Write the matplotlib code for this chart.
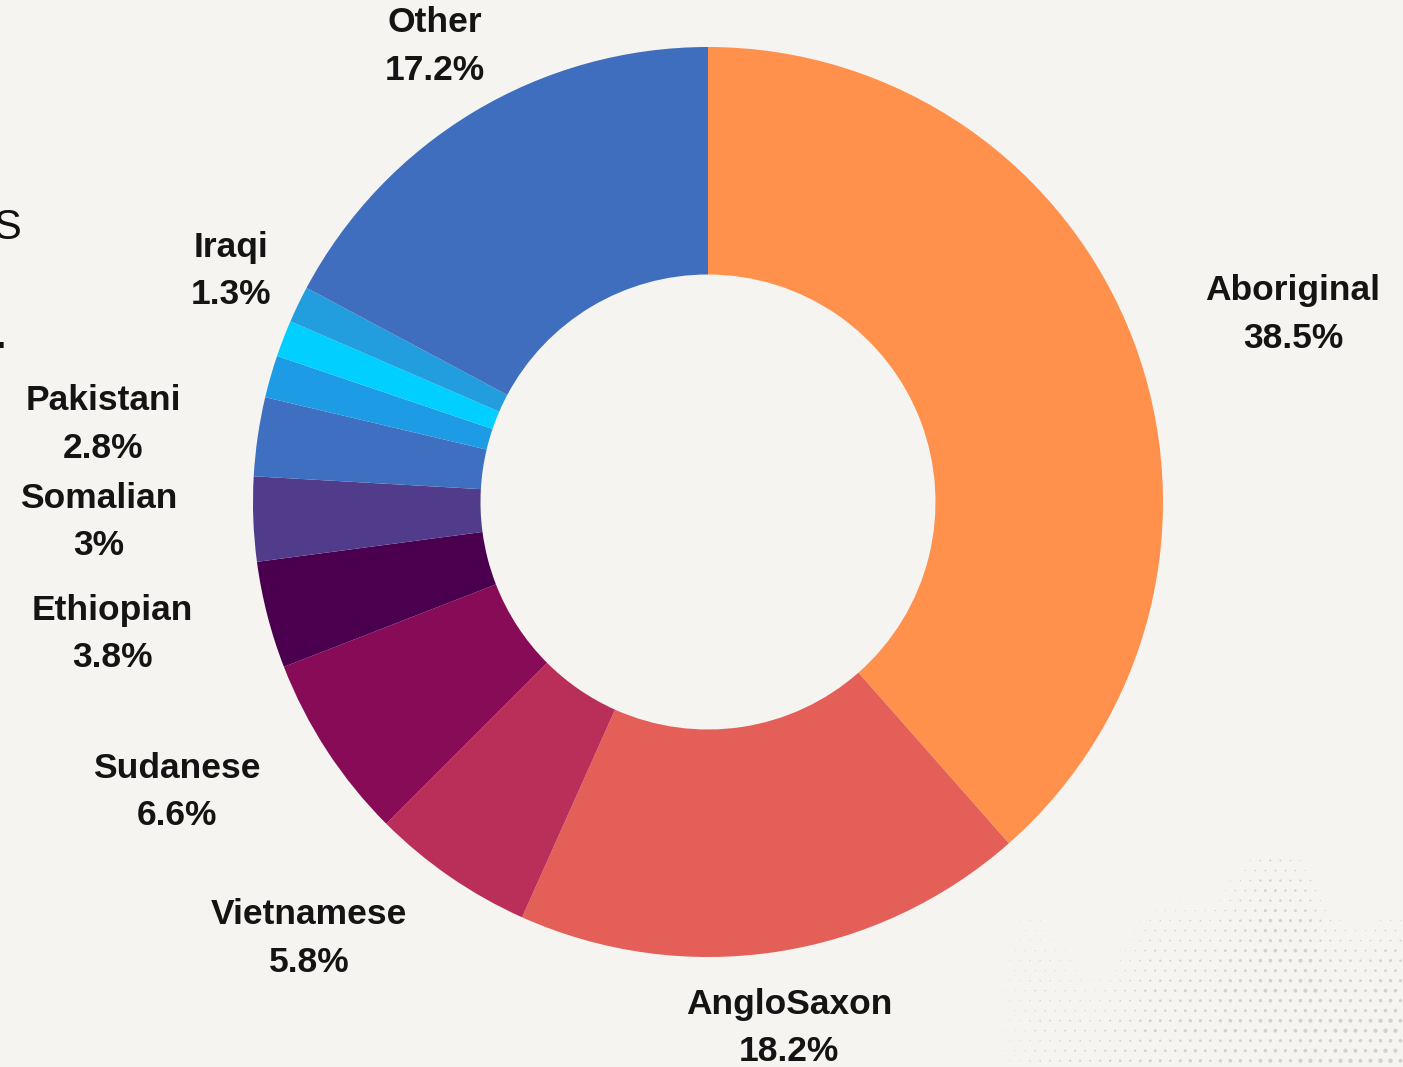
import numpy as np
import matplotlib.pyplot as plt

# slices, clockwise from 12 o'clock
groups = ['Aboriginal', 'AngloSaxon', 'Vietnamese', 'Sudanese', 'Ethiopian',
          'Somalian', 'Pakistani', '', '', 'Iraqi', 'Other']
shares = [38.5, 18.2, 5.8, 6.6, 3.8, 3.0, 2.8, 1.5, 1.3, 1.3, 17.2]
shown = ['38.5%', '18.2%', '5.8%', '6.6%', '3.8%', '3%', '2.8%', '', '', '1.3%', '17.2%']
colors = ['#FF914D', '#E35F58', '#BA2F5A', '#870B57', '#4B004F', '#503C8B',
          '#3F6FC0', '#1D9CE5', '#00CFFF', '#229EDF', '#3F6EBE']

# label placement: radius (in pie radii) and angle nudge (deg) per slice
lab_r = [1.35, 1.17, 1.30, 1.33, 1.34, 1.34, 1.34, 0, 0, 1.165, 1.167]
lab_da = [-2.9, 0.1, -7.9, -4.5, -1.9, -0.3, 1.0, 0, 0, -0.1, 0.0]

BG = '#F5F4F0'
fig = plt.figure(figsize=(14.03, 10.67), dpi=100, facecolor=BG)
ax = fig.add_axes([0, 0, 1, 1])
ax.set_facecolor(BG)

# halftone dot texture, bottom right
gx, gy = np.meshgrid(np.arange(0.62, 1.56, 0.022), np.arange(-1.25, -0.78, 0.022))
gx[::2] += 0.011
edge = -0.86 - 0.10 * np.sin(gx * 9.0) - 0.05 * np.sin(gx * 23.0 + 1.0)
fade = np.clip((gx - 0.62) * 1.1 * np.clip((edge - gy) * 4.0, 0, 1), 0, 1)
fade *= 0.55 + 0.45 * np.abs(np.sin(gx * 37.0) * np.cos(gy * 41.0))
ax.scatter(gx.ravel(), gy.ravel(), s=12 * fade.ravel(), c='#d3d1cd',
           linewidths=0, zorder=0)

wedges, _ = ax.pie(shares, colors=colors, startangle=90, counterclock=False,
                   radius=1.0, wedgeprops=dict(width=0.5, linewidth=0))

for w, name, pct, r, da in zip(wedges, groups, shown, lab_r, lab_da):
    if not name:
        continue
    mid = np.deg2rad((w.theta1 + w.theta2) / 2 + da)
    ax.text(r * np.cos(mid), r * np.sin(mid), name + '\n' + pct,
            ha='center', va='center', fontsize=25.5, fontweight='bold',
            family='Liberation Sans', color='#141414', linespacing=1.56)

# cropped remnants of neighbouring text on the left edge
ax.text(-1.572, 0.603, 'S', fontsize=30, family='Liberation Sans', color='#111111',
        ha='left', va='center')
ax.text(-1.566, 0.36, '.', fontsize=26, family='Liberation Sans', fontweight='bold',
        color='#111111', ha='left', va='center')

ax.set_xlim(-708 / 455, (1403 - 708) / 455)
ax.set_ylim(-(1067 - 502) / 455, 502 / 455)
ax.set_aspect('auto')
ax.axis('off')

plt.savefig('out.png', dpi=100, facecolor=BG)
